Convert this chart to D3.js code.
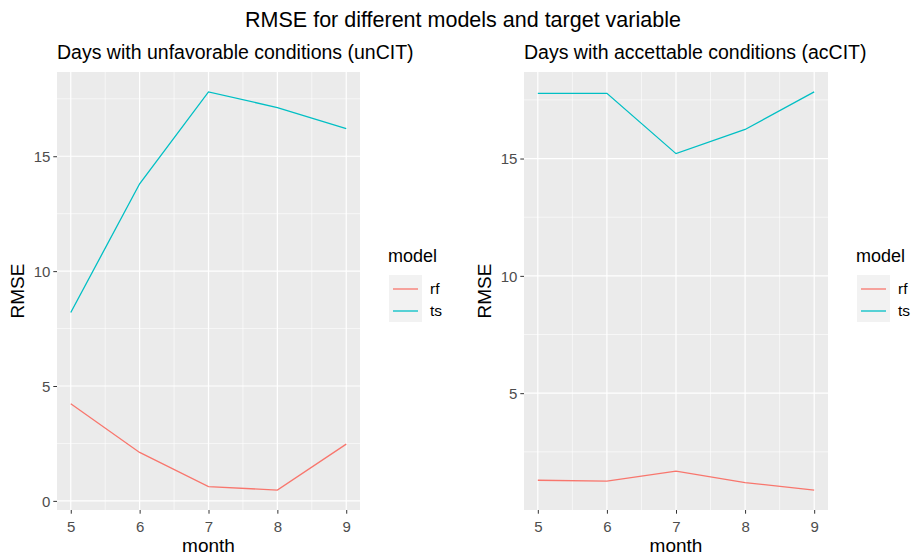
<!DOCTYPE html>
<html lang="en">
<head>
    <meta charset="UTF-8">
    <title>RMSE for different models and target variable</title>
    <script src="https://d3js.org/d3.v7.min.js"></script>
    <style>
        body {
            margin: 0;
            background: #fff;
            font-family: "Liberation Sans", Arial, sans-serif;
        }
        .tick-label {
            fill: #4d4d4d;
            font-size: 15px;
        }
        .axis-title {
            fill: #000;
            font-size: 19px;
        }
    </style>
</head>
<body>
    <svg id="chart"></svg>

    <script>
        var months = [5, 6, 7, 8, 9];
        var models = ["rf", "ts"];

        // Days with unfavorable conditions (unCIT)
        var unRf = [4.23, 2.11, 0.62, 0.47, 2.47];
        var unTs = [8.2, 13.8, 17.8, 17.12, 16.2];

        // Days with accettable conditions (acCIT)
        var acRf = [1.29, 1.25, 1.68, 1.19, 0.87];
        var acTs = [17.78, 17.78, 15.21, 16.24, 17.84];

        var color = d3.scaleOrdinal().domain(models).range(["#F8766D", "#00BFC4"]);

        var W = 917, H = 557;
        var svg = d3.select("#chart").attr("width", W).attr("height", H);

        svg.append("text")
            .attr("x", 463)
            .attr("y", 27)
            .attr("text-anchor", "middle")
            .style("font-size", "21.5px")
            .text("RMSE for different models and target variable");

        function drawPanel(p) {
            var g = svg.append("g");

            // ggplot style 5% expansion
            var all = p.rf.concat(p.ts);
            var lo = d3.min(all), hi = d3.max(all), pad = (hi - lo) * 0.05;
            var x = d3.scaleLinear().domain([4.8, 9.2]).range([p.left, p.right]);
            var y = d3.scaleLinear().domain([lo - pad, hi + pad]).range([p.bottom, p.top]);

            g.append("text")
                .attr("x", p.left)
                .attr("y", 59)
                .style("font-size", "19.5px")
                .text(p.title);

            g.append("rect")
                .attr("x", p.left).attr("y", p.top)
                .attr("width", p.right - p.left).attr("height", p.bottom - p.top)
                .attr("fill", "#ebebeb");

            var yMajor = [0, 5, 10, 15].filter(function(v) { return v >= y.domain()[0] && v <= y.domain()[1]; });
            var yMinor = [2.5, 7.5, 12.5, 17.5].filter(function(v) { return v >= y.domain()[0] && v <= y.domain()[1]; });
            var xMinor = [5.5, 6.5, 7.5, 8.5];

            g.selectAll(".yminor").data(yMinor).enter().append("line")
                .attr("x1", p.left).attr("x2", p.right)
                .attr("y1", y).attr("y2", y)
                .attr("stroke", "#fff").attr("stroke-width", 0.6);
            g.selectAll(".xminor").data(xMinor).enter().append("line")
                .attr("y1", p.top).attr("y2", p.bottom)
                .attr("x1", x).attr("x2", x)
                .attr("stroke", "#fff").attr("stroke-width", 0.6);
            g.selectAll(".ymajor").data(yMajor).enter().append("line")
                .attr("x1", p.left).attr("x2", p.right)
                .attr("y1", y).attr("y2", y)
                .attr("stroke", "#fff").attr("stroke-width", 1.2);
            g.selectAll(".xmajor").data(months).enter().append("line")
                .attr("y1", p.top).attr("y2", p.bottom)
                .attr("x1", x).attr("x2", x)
                .attr("stroke", "#fff").attr("stroke-width", 1.2);

            // axes
            var yAxis = g.append("g")
                .attr("transform", "translate(" + p.left + ",0)")
                .call(d3.axisLeft(y).tickValues(yMajor).tickSize(3.7).tickPadding(3).tickFormat(d3.format("d")));
            var xAxis = g.append("g")
                .attr("transform", "translate(0," + p.bottom + ")")
                .call(d3.axisBottom(x).tickValues(months).tickSize(3.7).tickPadding(4).tickFormat(d3.format("d")));
            [xAxis, yAxis].forEach(function(a) {
                a.select(".domain").remove();
                a.selectAll(".tick line").attr("stroke", "#333").attr("stroke-width", 1);
                a.selectAll(".tick text").attr("class", "tick-label")
                    .attr("font-family", null).attr("font-size", null).attr("fill", null);
                a.attr("font-family", null).attr("font-size", null);
            });
            yAxis.selectAll(".tick text").attr("dy", "0.36em");
            xAxis.selectAll(".tick text").attr("dy", "0.95em");

            // lines
            var line = d3.line()
                .x(function(d, i) { return x(months[i]); })
                .y(function(d) { return y(d); });
            [["rf", p.rf], ["ts", p.ts]].forEach(function(s) {
                g.append("path")
                    .datum(s[1])
                    .attr("d", line)
                    .attr("fill", "none")
                    .attr("stroke", color(s[0]))
                    .attr("stroke-width", 1.3);
            });

            // axis titles
            g.append("text")
                .attr("class", "axis-title")
                .attr("x", (p.left + p.right) / 2)
                .attr("y", 552)
                .attr("text-anchor", "middle")
                .text("month");
            g.append("text")
                .attr("class", "axis-title")
                .attr("transform", "translate(" + p.ylabX + "," + ((p.top + p.bottom) / 2) + ") rotate(-90)")
                .attr("text-anchor", "middle")
                .text("RMSE");

            // legend
            var lg = g.append("g").attr("transform", "translate(" + p.legX + ",0)");
            lg.append("text")
                .attr("x", 0).attr("y", 262)
                .style("font-size", "18px")
                .text("model");
            lg.append("rect")
                .attr("x", 1).attr("y", 275)
                .attr("width", 33).attr("height", 47)
                .attr("fill", "#f2f2f2");
            models.forEach(function(m, i) {
                var ky = 289 + i * 22;
                lg.append("line")
                    .attr("x1", 5).attr("x2", 30)
                    .attr("y1", ky).attr("y2", ky)
                    .attr("stroke", color(m)).attr("stroke-width", 1.3);
                lg.append("text")
                    .attr("x", 42).attr("y", ky + 5)
                    .style("font-size", "15.5px")
                    .text(m);
            });
        }

        drawPanel({
            title: "Days with unfavorable conditions (unCIT)",
            rf: unRf, ts: unTs,
            left: 57, right: 360, top: 72, bottom: 510,
            ylabX: 24, legX: 388
        });
        drawPanel({
            title: "Days with accettable conditions (acCIT)",
            rf: acRf, ts: acTs,
            left: 524, right: 828, top: 72, bottom: 510,
            ylabX: 491, legX: 856
        });
    </script>
</body>
</html>
